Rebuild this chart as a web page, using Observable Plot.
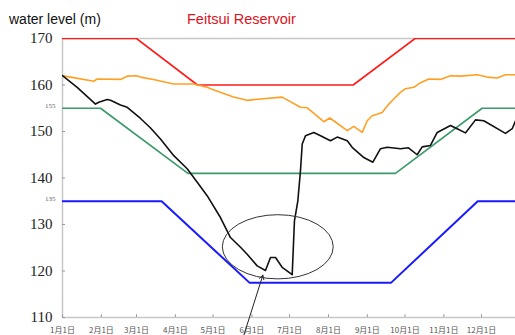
<!DOCTYPE html>
<html>
<head>
<meta charset="utf-8">
<script src="https://cdn.jsdelivr.net/npm/d3@7"></script>
<script src="https://cdn.jsdelivr.net/npm/@observablehq/plot@0.6"></script>
<style>
  html, body { margin: 0; padding: 0; background: #fff; }
  #wrap { position: relative; width: 515px; height: 335px; overflow: hidden; }
  #ylab { position: absolute; left: 9px; top: 11px; font: 14px "Liberation Sans", Arial, sans-serif; color: #111; }
  #title { position: absolute; left: 187px; top: 11px; font: 14.5px "Liberation Sans", Arial, sans-serif; color: #d8141c; }
  svg { position: absolute; left: 0; top: 0; }
</style>
</head>
<body>
<div id="wrap">
  <div id="ylab">water level (m)</div>
  <div id="title">Feitsui Reservoir</div>
</div>
<script>
// ---- data ----
const monthDays = [0, 31, 59, 90, 120, 151, 181, 212, 243, 273, 304, 334];
const monthLabels = ["1月1日","2月1日","3月1日","4月1日","5月1日","6月1日","7月1日","8月1日","9月1日","10月1日","11月1日","12月1日"];
const yTicks = [110, 120, 130, 140, 150, 160, 170];
const ySmallTicks = [155, 135];

// upper rule curve (red)
const redDays = [0, 59, 107.6, 231.7, 281, 365];
const redVals = [170, 170, 160, 160, 170, 170];
// green rule curve
const greenDays = [0, 30.3, 100, 265.4, 334.5, 365];
const greenVals = [155, 155, 141, 141, 155, 155];
// lower rule curve (blue)
const blueDays = [0, 79, 149, 262, 331, 365];
const blueVals = [135, 135, 117.5, 117.5, 135, 135];

// orange (historical average level)
const orangeDays = [0, 6.4, 25, 27.7, 46.2, 51.6, 59, 62.2, 72.5, 88.5, 104.4, 115.3, 118, 136.3, 147.2, 157.8, 175.1, 189.7, 195.1, 208.3, 213.1, 227, 232.2, 238.9, 242.9, 246.9, 254.8, 260.1, 264.1, 269.4, 273.4, 280, 285.4, 292, 301.3, 309.3, 317.3, 330.6, 338.5, 346.5, 353.1, 361.1];
const orangeVals = [162.0, 161.7, 160.8, 161.3, 161.2, 161.9, 162.0, 161.7, 161.2, 160.2, 160.2, 159.5, 159.2, 157.4, 156.7, 157.0, 157.4, 155.2, 155.1, 152.1, 152.9, 150.2, 151.1, 149.8, 152.3, 153.4, 154.1, 155.9, 157.0, 158.4, 159.2, 159.5, 160.5, 161.3, 161.2, 162.0, 161.9, 162.2, 161.7, 161.5, 162.2, 162.2];

// black (observed level)
const blackDays = [0, 11.7, 26.3, 28.9, 35.6, 38.3, 46.2, 51.6, 62.2, 70, 78.1, 88.7, 99.4, 107.4, 115.3, 125.9, 133.9, 141.9, 147.2, 155.2, 161.8, 165.8, 169.8, 175.1, 183.1, 184.9, 187.6, 189.7, 191.1, 193.7, 200.3, 205.7, 213.6, 219, 227, 230.9, 240.2, 247.4, 253.5, 258.8, 269.4, 275.8, 282.7, 286.7, 293.3, 298.7, 309.3, 314.6, 321.2, 329.2, 335.8, 353.1, 358.5, 361.1];
const blackVals = [162.0, 159.5, 155.9, 156.3, 156.9, 156.7, 155.7, 155.2, 152.8, 150.8, 148.4, 144.8, 142.0, 139.1, 136.2, 131.5, 127.2, 125.1, 123.6, 121.1, 120.1, 122.9, 122.9, 120.8, 119.2, 130.8, 135.1, 141.6, 147.3, 149.1, 149.8, 149.1, 148.0, 148.8, 148.0, 146.6, 144.4, 143.4, 146.3, 146.6, 146.3, 146.5, 145.0, 146.7, 147.0, 149.8, 151.3, 150.6, 149.7, 152.5, 152.3, 149.6, 150.6, 152.3];

// annotation: ellipse (center day, center level, half-width days, half-height level)
const ellipseCenter = [172, 125.1];
const ellipseRadii = [44.2, 6.9];
// annotation: arrow (from, to)
const arrowFrom = [144.3, 106.0];
const arrowTo = [159.7, 119.1];

const toPts = (xs, ys) => xs.map((x, i) => ({x, y: ys[i]}));

const plot = Plot.plot({
  width: 515,
  height: 335,
  marginLeft: 62,
  marginRight: 0,
  marginTop: 38,
  marginBottom: 18,
  x: {domain: [0, 361.1], axis: null},
  y: {domain: [110, 170], axis: null},
  marks: [
    // frame lines
    Plot.ruleY([110, 170], {stroke: "#c8c8c8", strokeWidth: 1.5}),
    Plot.ruleX([0], {stroke: "#c8c8c8", strokeWidth: 1.5}),
    // inward ticks
    Plot.ruleY(yTicks, {x1: 0, x2: 2.4, stroke: "#999"}),
    Plot.ruleX(monthDays, {y1: 110, y2: 110.6, stroke: "#999"}),
    // tick labels
    Plot.text(yTicks, {x: 0, y: d => d, text: d => String(d), textAnchor: "end", dx: -10, fontSize: 15, fontFamily: "Liberation Serif, Times New Roman, serif", fill: "#222"}),
    Plot.text(ySmallTicks, {x: 0, y: d => d, text: d => String(d), textAnchor: "end", dx: -7, dy: -3, fontSize: 7, fontFamily: "Liberation Serif, Times New Roman, serif", fill: "#666"}),
    Plot.text(monthDays, {x: d => d, y: 110, text: (d, i) => monthLabels[i], dy: 13, fontSize: 8, fontFamily: "Noto Sans CJK JP, sans-serif", fill: "#555"}),
    // rule curves
    Plot.line(toPts(redDays, redVals), {x: "x", y: "y", stroke: "#ff1a1a", strokeWidth: 1.6, clip: true}),
    Plot.line(toPts(greenDays, greenVals), {x: "x", y: "y", stroke: "#3a9a6a", strokeWidth: 1.6, clip: true}),
    Plot.line(toPts(blueDays, blueVals), {x: "x", y: "y", stroke: "#1a1aff", strokeWidth: 2, clip: true}),
    Plot.line(toPts(orangeDays, orangeVals), {x: "x", y: "y", stroke: "#ffa024", strokeWidth: 1.6, clip: true}),
    Plot.line(toPts(blackDays, blackVals), {x: "x", y: "y", stroke: "#111", strokeWidth: 1.6, clip: true}),
    // arrow
    Plot.arrow([{x1: arrowFrom[0], y1: arrowFrom[1], x2: arrowTo[0], y2: arrowTo[1]}], {x1: "x1", y1: "y1", x2: "x2", y2: "y2", stroke: "#222", strokeWidth: 1, headLength: 7})
  ]
});

// ellipse drawn through the plot's scales
const xs = plot.scale("x"), ys = plot.scale("y");
const cx = xs.apply(ellipseCenter[0]), cy = ys.apply(ellipseCenter[1]);
const rx = xs.apply(ellipseCenter[0] + ellipseRadii[0]) - cx;
const ry = cy - ys.apply(ellipseCenter[1] + ellipseRadii[1]);
d3.select(plot).append("ellipse")
  .attr("cx", cx).attr("cy", cy).attr("rx", rx).attr("ry", ry)
  .attr("fill", "none").attr("stroke", "#333").attr("stroke-width", 1);

const wrap = document.getElementById("wrap");
wrap.insertBefore(plot, wrap.firstChild);
</script>
</body>
</html>
